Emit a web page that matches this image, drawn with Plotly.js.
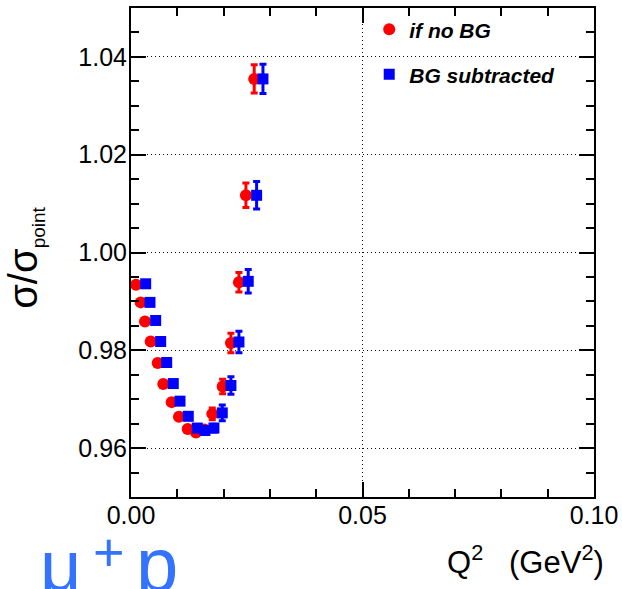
<!DOCTYPE html>
<html>
<head>
<meta charset="utf-8">
<script src="https://cdn.plot.ly/plotly-3.0.1.min.js"></script>
<style>
  html, body { margin: 0; padding: 0; background: #fff; }
  #chart { width: 622px; height: 589px; }
</style>
</head>
<body>
<div id="chart"></div>
<script>
// Q^2 values (GeV^2) and cross-section ratio sigma/sigma_point
const q2NoBG = [0.00108, 0.00209, 0.00302, 0.00425, 0.00576, 0.00697, 0.00878, 0.01036, 0.01224,
                0.01403, 0.01586, 0.01755, 0.01979, 0.02158, 0.02331, 0.02482, 0.02661];
const ratioNoBG = [0.9934, 0.9898, 0.9859, 0.9818, 0.9774, 0.9731, 0.9694, 0.9664, 0.9639,
                   0.9632, 0.9638, 0.9670, 0.9726, 0.9815, 0.9939, 1.0117, 1.0355];
const errNoBG = [0.0005, 0.0005, 0.0005, 0.0005, 0.0005, 0.0005, 0.0005, 0.0005, 0.0005,
                 0.0005, 0.0006, 0.0012, 0.0015, 0.0020, 0.0020, 0.0025, 0.0029];

const q2Sub = [0.00317, 0.00410, 0.00533, 0.00641, 0.00771, 0.00913, 0.01058, 0.01237, 0.01431,
               0.01597, 0.01791, 0.01971, 0.02158, 0.02331, 0.02532, 0.02713, 0.02850];
const ratioSub = [0.9936, 0.9898, 0.9861, 0.9818, 0.9775, 0.9732, 0.9696, 0.9665, 0.9641,
                  0.9636, 0.9641, 0.9672, 0.9728, 0.9817, 0.9941, 1.0117, 1.0355];
const errSub = [0.0006, 0.0006, 0.0006, 0.0006, 0.0006, 0.0006, 0.0006, 0.0006, 0.0006,
                0.0007, 0.0008, 0.0016, 0.0018, 0.0022, 0.0024, 0.0028, 0.0030];

const seriesNames = ['if no BG', 'BG subtracted'];

const FONT = 'Liberation Sans, Arial, Helvetica, sans-serif';
const NBSP = '\u00A0';

const traces = [
  {
    type: 'scatter', mode: 'markers', name: seriesNames[0],
    x: q2NoBG, y: ratioNoBG,
    error_y: { type: 'data', array: errNoBG, visible: true, color: '#ff0000', thickness: 3, width: 3.5 },
    marker: { symbol: 'circle', size: 12, color: '#ff0000' },
    legend: 'legend'
  },
  {
    type: 'scatter', mode: 'markers', name: seriesNames[1],
    x: q2Sub, y: ratioSub,
    error_y: { type: 'data', array: errSub, visible: true, color: '#0000ff', thickness: 3, width: 3.5 },
    marker: { symbol: 'square', size: 11, color: '#0000ff' },
    legend: 'legend2'
  }
];

const axisCommon = {
  showline: true, linecolor: '#000', linewidth: 2, mirror: 'allticks',
  ticks: 'inside', ticklen: 15, tickwidth: 2, tickcolor: '#000',
  showgrid: true, gridcolor: '#111', gridwidth: 1, griddash: '1px,3px',
  zeroline: false,
  tickfont: { family: FONT, size: 25, color: '#000' },
  tickformat: '.2f'
};

const legendFont = { family: FONT, size: 21, color: '#000', weight: 'bold', style: 'italic' };

const layout = {
  width: 622, height: 589,
  margin: { l: 131, r: 28, t: 8, b: 92 },
  paper_bgcolor: '#fff', plot_bgcolor: '#fff',
  showlegend: true,
  xaxis: Object.assign({}, axisCommon, {
    range: [0, 0.1], tick0: 0, dtick: 0.05, ticklabelstandoff: -5,
    minor: { ticks: 'inside', ticklen: 8, tickwidth: 2, tickcolor: '#000', dtick: 0.01, showgrid: false }
  }),
  yaxis: Object.assign({}, axisCommon, {
    range: [0.95, 1.05], tick0: 0.96, dtick: 0.02, ticklabelstandoff: -3,
    minor: { ticks: 'inside', ticklen: 8, tickwidth: 2, tickcolor: '#000', dtick: 0.005, showgrid: false }
  }),
  legend: {
    x: 0.5145, y: 0.9557, xanchor: 'left', yanchor: 'middle',
    bgcolor: 'rgba(0,0,0,0)', borderwidth: 0, font: legendFont
  },
  legend2: {
    x: 0.5145, y: 0.8636, xanchor: 'left', yanchor: 'middle',
    bgcolor: 'rgba(0,0,0,0)', borderwidth: 0, font: legendFont
  },
  annotations: [
    {
      text: 'σ/σ<sub><span style="font-size:19px">point</span></sub>', textangle: -90,
      xref: 'paper', yref: 'paper', x: -0.228, y: 0.49,
      xanchor: 'center', yanchor: 'middle', showarrow: false,
      font: { family: FONT, size: 40, color: '#000' }
    },
    {
      text: 'Q<sup>2</sup>' + NBSP + NBSP + ' (GeV<sup>2</sup>)',
      xref: 'paper', yref: 'paper', x: 1, y: -0.128, xshift: 12,
      xanchor: 'right', yanchor: 'middle', showarrow: false,
      font: { family: FONT, size: 31, color: '#000' }
    },
    // beam / target label: μ⁺p
    {
      text: 'μ',
      xref: 'paper', yref: 'paper', x: -0.2, y: -0.2275,
      xanchor: 'left', yanchor: 'bottom', showarrow: false,
      font: { family: FONT, size: 72, color: '#3373ff' }
    },
    {
      text: '+',
      xref: 'paper', yref: 'paper', x: -0.0475, y: -0.1119,
      xanchor: 'center', yanchor: 'middle', showarrow: false,
      font: { family: FONT, size: 54, color: '#3373ff' }
    },
    {
      text: 'p',
      xref: 'paper', yref: 'paper', x: 0.0065, y: -0.2284,
      xanchor: 'left', yanchor: 'bottom', showarrow: false,
      font: { family: FONT, size: 76, color: '#3373ff' }
    }
  ]
};

Plotly.newPlot('chart', traces, layout, { displayModeBar: false, staticPlot: true });
</script>
</body>
</html>
